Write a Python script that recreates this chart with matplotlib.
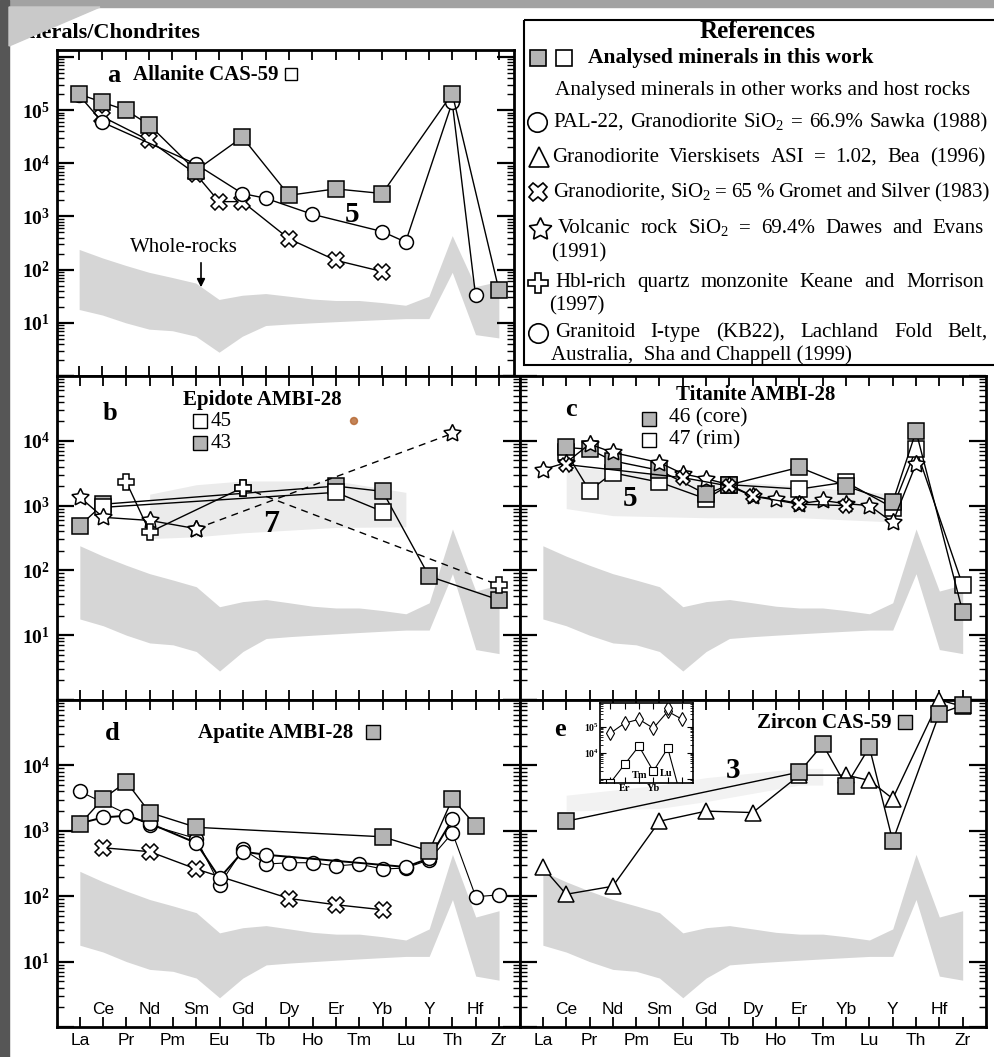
import numpy as np
import matplotlib
matplotlib.use('Agg')
import matplotlib.pyplot as plt
from matplotlib.ticker import LogLocator, NullFormatter
from matplotlib.patches import Rectangle, Polygon, Circle
from matplotlib import font_manager

plt.rcParams['font.family'] = ['Liberation Serif', 'DejaVu Serif']
plt.rcParams['mathtext.fontset'] = 'custom'
plt.rcParams['mathtext.rm'] = 'Liberation Serif'
plt.rcParams['mathtext.bf'] = 'Liberation Serif:bold'
plt.rcParams['mathtext.default'] = 'regular'

_names = {f.name for f in font_manager.fontManager.ttflist}
SANS = 'Liberation Sans Narrow' if 'Liberation Sans Narrow' in _names else 'Liberation Sans'

# ---------------------------------------------------------------- data
ELEMENTS = ['La', 'Ce', 'Pr', 'Nd', 'Pm', 'Sm', 'Eu', 'Gd', 'Tb', 'Dy',
            'Ho', 'Er', 'Tm', 'Yb', 'Lu', 'Y', 'Th', 'Hf', 'Zr']

# whole-rock field (upper / lower envelope, chondrite normalised)
wr_upper = [240, 166, 120, 89, 71, 56, 27.5, 33, 35.5, 31.6, 28, 26.3, 26.3, 24, 21.4, 31.6, 436, 48, 60]
wr_lower = [17.8, 14, 10, 7.6, 7.1, 5.6, 2.8, 5.6, 8.9, 9.5, 10, 10.5, 11, 11.5, 12, 12, 89, 6, 5.2]

# a  Allanite CAS-59
a_aln_el = ['La', 'Ce', 'Pr', 'Nd', 'Sm', 'Gd', 'Dy', 'Er', 'Yb', 'Th', 'Zr']
a_aln_val = [2.0e5, 1.4e5, 1.0e5, 5.3e4, 7.3e3, 3.1e4, 2.5e3, 3.3e3, 2.7e3, 2.05e5, 42]
a_saw_el = ['La', 'Ce', 'Sm', 'Gd', 'Tb', 'Ho', 'Yb', 'Lu', 'Th', 'Hf']
a_saw_val = [1.9e5, 5.9e4, 9.7e3, 2.7e3, 2.2e3, 1.1e3, 520, 330, 1.4e5, 33]
a_gro_el = ['Ce', 'Nd', 'Sm', 'Eu', 'Gd', 'Dy', 'Er', 'Yb']
a_gro_val = [7.5e4, 2.7e4, 6.3e3, 1.9e3, 1.9e3, 380, 150, 92]

# b  Epidote AMBI-28
b_43_el = ['La', 'Ce', 'Er', 'Yb', 'Y', 'Zr']
b_43_val = [490, 1050, 2000, 1660, 81, 35]
b_45_el = ['Ce', 'Er', 'Yb']
b_45_val = [940, 1600, 810]
b_star_el = ['La', 'Ce', 'Nd', 'Sm', 'Th']
b_star_val = [1350, 660, 590, 440, 13000]
b_hbl_el = ['Pr', 'Nd', 'Gd', 'Zr']
b_hbl_val = [2300, 390, 1900, 59]
b_field_el = ['Nd', 'Sm', 'Gd', 'Er', 'Lu']
b_field_hi = [1500, 2100, 2400, 2400, 1600]
b_field_lo = [310, 330, 380, 460, 470]

# c  Titanite AMBI-28
c_46_el = ['Ce', 'Pr', 'Nd', 'Sm', 'Gd', 'Tb', 'Er', 'Yb', 'Y', 'Th', 'Zr']
c_46_val = [7900, 7400, 4900, 3500, 1500, 2100, 3900, 2000, 1130, 14000, 23]
c_47_el = ['Ce', 'Pr', 'Nd', 'Sm', 'Gd', 'Tb', 'Er', 'Yb', 'Y', 'Th', 'Zr']
c_47_val = [6600, 1700, 3200, 2300, 1270, 2100, 1800, 2300, 930, 7400, 59]
c_star_el = ['La', 'Ce', 'Pr', 'Nd', 'Sm', 'Eu', 'Gd', 'Tb', 'Dy', 'Ho', 'Er', 'Tm', 'Yb', 'Lu', 'Y', 'Th']
c_star_val = [3600, 4600, 8900, 6600, 4600, 3100, 2600, 2100, 1400, 1260, 1070, 1200, 1070, 1000, 550, 4400]
c_gro_el = ['Ce', 'Eu', 'Tb', 'Dy', 'Er', 'Yb']
c_gro_val = [4300, 2700, 2000, 1400, 1050, 1000]
c_field_el = ['Ce', 'Nd', 'Gd', 'Er', 'Y']
c_field_hi = [4000, 3500, 2500, 2000, 1500]
c_field_lo = [900, 700, 650, 650, 560]

# d  Apatite AMBI-28
d_apt_el = ['La', 'Ce', 'Pr', 'Nd', 'Sm', 'Yb', 'Y', 'Th', 'Hf']
d_apt_val = [1260, 3100, 5600, 1900, 1130, 810, 490, 3100, 1200]
d_saw_el = ['La', 'Nd', 'Sm', 'Eu', 'Gd', 'Tb', 'Dy', 'Ho', 'Er', 'Tm', 'Yb', 'Lu', 'Y', 'Th', 'Hf', 'Zr']
d_saw_val = [4000, 1230, 760, 150, 520, 310, 325, 325, 290, 310, 260, 270, 360, 930, 98, 105]
d_sha_el = ['La', 'Ce', 'Pr', 'Nd', 'Sm', 'Eu', 'Gd', 'Tb', 'Lu', 'Y', 'Th']
d_sha_val = [1300, 1600, 1700, 1300, 650, 190, 480, 430, 280, 380, 1500]
d_gro_el = ['Ce', 'Nd', 'Sm', 'Dy', 'Er', 'Yb']
d_gro_val = [550, 480, 260, 92, 74, 62]

# e  Zircon CAS-59
e_zrn_el = ['Ce', 'Er', 'Tm', 'Yb', 'Lu', 'Y', 'Hf', 'Zr']
e_zrn_val = [1400, 7900, 21000, 4900, 19000, 700, 62000, 83000]
e_bea_el = ['La', 'Ce', 'Nd', 'Sm', 'Gd', 'Dy', 'Er', 'Yb', 'Lu', 'Y', 'Hf', 'Zr']
e_bea_val = [275, 107, 142, 1400, 2000, 1900, 7100, 7100, 5900, 3100, 1.0e5, 80000]
e_field_el = ['Ce', 'Sm', 'Gd', 'Er', 'Tm']
e_field_hi = [3500, 5000, 6500, 9000, 9000]
e_field_lo = [2000, 2200, 2800, 5000, 5000]
# inset of e
ins_sq_el = ['Ho', 'Er', 'Tm', 'Yb', 'Lu', 'Y']
ins_sq_val = [700, 3600, 18000, 2000, 15000, 140]
ins_dia_el = ['Ho', 'Er', 'Tm', 'Yb', 'Lu', 'Y']
ins_dia_val = [55000, 135000, 190000, 87000, 380000, 190000]
ins_dia2_el = ['Lu']
ins_dia2_val = [525000]

# ---------------------------------------------------------------- figure
W, H = 994, 1057
DPI = 100
fig = plt.figure(figsize=(W / DPI, H / DPI), dpi=DPI)
fig.patch.set_facecolor('white')


def box(x0, y0, x1, y1):
    return [x0 / W, 1 - y1 / H, (x1 - x0) / W, (y1 - y0) / H]


GRAY = '#b4b4b4'
BAND = '#d6d6d6'
STAR = (5, 1, 0)


def idx(els):
    return [ELEMENTS.index(e) for e in els]


def style(ax, xlim, top_exp, labeled):
    ax.set_yscale('log')
    ax.set_xlim(*xlim)
    ax.set_ylim(1, 10 ** top_exp)
    ks = list(range(0, int(np.floor(top_exp)) + 1))
    ax.set_yticks([10.0 ** k for k in ks],
                  labels=[f'10$^{{{k}}}$' if k in labeled else '' for k in ks],
                  fontsize=14, fontweight='bold')
    ax.yaxis.set_minor_locator(LogLocator(base=10, subs=np.arange(2, 10) * 1.0, numticks=100))
    ax.yaxis.set_minor_formatter(NullFormatter())
    ax.set_xticks(range(len(ELEMENTS)))
    ax.set_xticklabels([])
    ax.tick_params(axis='y', which='major', direction='in', length=12, width=1.6,
                   left=True, right=True, pad=5)
    ax.tick_params(axis='y', which='minor', direction='in', length=5, width=1.0,
                   left=True, right=True)
    ax.tick_params(axis='x', which='major', direction='in', length=7, width=1.3,
                   top=True, bottom=True)
    ax.xaxis.set_minor_locator(matplotlib.ticker.NullLocator())
    for s in ax.spines.values():
        s.set_linewidth(2.0)
    ax.fill_between(range(len(ELEMENTS)), wr_lower, wr_upper, color=BAND, lw=0, zorder=1)


def series(ax, els, vals, marker, mfc='white', ms=10, ls='-', lw=1.0, mew=1.1, z=3, clip=False):
    ax.plot(idx(els), vals, color='black', ls=ls, lw=lw, marker=marker, ms=ms,
            mfc=mfc, mec='black', mew=mew, zorder=z, clip_on=clip)


ax_a = fig.add_axes(box(57, 50, 514, 376))
ax_b = fig.add_axes(box(57, 376, 520, 700))
ax_c = fig.add_axes(box(520, 376, 986, 700))
ax_d = fig.add_axes(box(57, 700, 520, 1027))
ax_e = fig.add_axes(box(520, 700, 986, 1027))

style(ax_a, (-0.95, 18.65), 6.13, [1, 2, 3, 4, 5])
style(ax_b, (-0.98, 18.9), 5, [1, 2, 3, 4])
style(ax_c, (-0.98, 19.0), 5, [])
style(ax_d, (-0.98, 18.9), 5, [1, 2, 3, 4])
style(ax_e, (-0.98, 19.0), 5, [])

# light fields
ax_b.fill_between(idx(b_field_el), b_field_lo, b_field_hi, color='#ebebeb', lw=0, zorder=0.9)
ax_c.fill_between(idx(c_field_el), c_field_lo, c_field_hi, color='#ededed', lw=0, zorder=0.9)
ax_e.fill_between(idx(e_field_el), e_field_lo, e_field_hi, color='#f2f2f2', lw=0, zorder=0.9)

# panel a
series(ax_a, a_gro_el, a_gro_val, 'X', ms=11)
series(ax_a, a_saw_el, a_saw_val, 'o', ms=10)
series(ax_a, a_aln_el, a_aln_val, 's', mfc=GRAY, ms=11)

# panel b
series(ax_b, b_43_el, b_43_val, 's', mfc=GRAY, ms=11)
series(ax_b, b_45_el, b_45_val, 's', ms=11)
series(ax_b, b_star_el[:4], b_star_val[:4], STAR, ms=13)
series(ax_b, b_star_el[3:], b_star_val[3:], STAR, ms=13, ls=(0, (5, 4)))
series(ax_b, b_hbl_el[:3], b_hbl_val[:3], 'P', ms=11)
series(ax_b, b_hbl_el[2:], b_hbl_val[2:], 'P', ms=11, ls=(0, (5, 4)))

# panel c
series(ax_c, c_47_el, c_47_val, 's', ms=11)
series(ax_c, c_46_el, c_46_val, 's', mfc=GRAY, ms=11)
series(ax_c, c_star_el, c_star_val, STAR, ms=13)
series(ax_c, c_gro_el, c_gro_val, 'X', ms=10)

# panel d
series(ax_d, d_gro_el, d_gro_val, 'X', ms=11)
series(ax_d, d_saw_el, d_saw_val, 'o', ms=10, lw=0.8)
series(ax_d, d_sha_el, d_sha_val, 'o', ms=10, lw=1.4)
series(ax_d, d_apt_el, d_apt_val, 's', mfc=GRAY, ms=11)

# panel e
series(ax_e, e_bea_el, e_bea_val, '^', ms=12)
series(ax_e, e_zrn_el, e_zrn_val, 's', mfc=GRAY, ms=12)

# element labels of d and e
for ax in (ax_d, ax_e):
    tr = ax.get_xaxis_transform()
    for i, el in enumerate(ELEMENTS):
        if i % 2 == 0:
            ax.text(i, -0.040, el, transform=tr, ha='center', va='center',
                    fontsize=12.5, family=SANS)
        else:
            ax.text(i, 0.055, el, transform=tr, ha='center', va='center',
                    fontsize=12.5, family=SANS)

# inset in e
ins = fig.add_axes(box(600, 703, 693, 783))
ins.set_yscale('log')
ins.set_xlim(9.3, 15.75)
ins.set_ylim(10 ** 2.85, 10 ** 5.9)
ins.plot(idx(ins_sq_el), ins_sq_val, color='black', lw=0.8, marker='s', ms=5.5,
         mfc='white', mec='black', mew=0.8)
ins.plot(idx(ins_dia_el), ins_dia_val, color='black', lw=0.8, marker='d', ms=7,
         mfc='white', mec='black', mew=0.8)
ins.plot(idx(ins_dia2_el), ins_dia2_val, ls='none', marker='d', ms=7,
         mfc='white', mec='black', mew=0.8)
ins.set_yticks([1e3, 1e4, 1e5], labels=['', '10$^{4}$', '10$^{5}$'], fontsize=7, fontweight='bold')
ins.yaxis.set_minor_locator(LogLocator(base=10, subs=np.arange(2, 10) * 1.0, numticks=100))
ins.yaxis.set_minor_formatter(NullFormatter())
ins.set_xticks(range(10, 16), labels=['', 'Er', '', 'Yb', '', ''], fontsize=7.5, fontweight='bold')
ins.tick_params(axis='both', which='major', direction='in', length=4, width=0.8,
                top=True, right=True, pad=1)
ins.tick_params(axis='y', which='minor', direction='in', length=2, width=0.6, right=True)
for s in ins.spines.values():
    s.set_linewidth(1.2)

# ---------------------------------------------------------------- overlay (pixel coordinates)
ov = fig.add_axes([0, 0, 1, 1], zorder=10)
ov.set_xlim(0, W)
ov.set_ylim(H, 0)
ov.axis('off')
renderer = fig.canvas.get_renderer()


def T(x, y, s, size=13, weight='normal', ha='left', va='center', **kw):
    return ov.text(x, y, s, fontsize=size, fontweight=weight, ha=ha, va=va, **kw)


def J(x0, x1, y, line, size=15):
    """Justified line of words between x0 and x1 (pixel units), common baseline."""
    words = line.split()
    texts = [T(x0, y + 5, w, size=size, va='baseline') for w in words]
    widths = [t.get_window_extent(renderer).width for t in texts]
    gap = (x1 - x0 - sum(widths)) / max(len(words) - 1, 1)
    x = x0
    for t, wd in zip(texts, widths):
        t.set_x(x)
        x += wd + gap


def M(x, y, marker, ms, mfc='white', mew=1.2):
    ov.plot([x], [y], marker=marker, ms=ms, mfc=mfc, mec='black', mew=mew,
            ls='none', clip_on=False)


# frame decorations of the scan
ov.add_patch(Rectangle((0, 0), W, 7, color='#a2a2a2', zorder=5))
ov.add_patch(Rectangle((0, 0), 9, H, color='#565656', zorder=6))
T(200, 33, 'Minerals/Chondrites', size=16, weight='bold', ha='right')
ov.add_patch(Polygon([(9, 7), (100, 7), (9, 46)], closed=True, color='#c9c9c9', zorder=7))

# panel a annotations
T(107, 76, 'a', size=19, weight='bold')
T(133, 75, 'Allanite CAS-59', size=15, weight='bold')
M(291, 74, 's', 9, mew=1.0)
T(184, 247, 'Whole-rocks', size=15, ha='center')
ov.annotate('', xy=(201, 290), xytext=(201, 260),
            arrowprops=dict(arrowstyle='-|>', color='black', lw=1.2, mutation_scale=12))
T(352, 215, '5', size=21, weight='bold', ha='center')

# panel b annotations
T(110, 413, 'b', size=19, weight='bold', ha='center')
T(262, 400, 'Epidote AMBI-28', size=15, weight='bold', ha='center')
M(200, 421, 's', 9.5, mew=1.0)
T(211, 421, '45', size=15)
M(200, 443, 's', 9.5, mfc=GRAY, mew=1.0)
T(211, 443, '43', size=15)
T(271, 524, '7', size=23, weight='bold', ha='center')
ov.add_patch(Circle((354, 421), 3.5, color='#b5652e', alpha=0.8, zorder=4))

# panel c annotations
T(571, 409, 'c', size=19, weight='bold', ha='center')
T(756, 395, 'Titanite AMBI-28', size=15, weight='bold', ha='center')
M(649, 419, 's', 9.5, mfc=GRAY, mew=1.0)
T(669, 418, '46 (core)', size=15.5)
M(649, 440, 's', 9.5, mew=1.0)
T(669, 440, '47 (rim)', size=15.5)
T(630, 498, '5', size=21, weight='bold', ha='center')

# panel d annotations
T(112, 734, 'd', size=19, weight='bold', ha='center')
T(276, 733, 'Apatite AMBI-28', size=15, weight='bold', ha='center')
M(373, 732, 's', 9.5, mfc=GRAY, mew=1.0)

# panel e annotations
T(560, 730, 'e', size=19, weight='bold', ha='center')
T(824, 723, 'Zircon CAS-59', size=15, weight='bold', ha='center')
M(905, 722, 's', 9.5, mfc=GRAY, mew=1.0)
T(733, 771, '3', size=21, weight='bold', ha='center')
T(640, 776, 'Tm', size=7.5, weight='bold', ha='center')
T(666, 773, 'Lu', size=7.5, weight='bold', ha='center')

# references box
ov.add_patch(Rectangle((524, 20), 480, 345, fill=False, ec='black', lw=1.5, zorder=4))
T(758, 32, 'References', size=18, weight='bold', ha='center')
M(538, 58, 's', 12, mfc=GRAY)
M(564, 58, 's', 12)
T(588, 58, 'Analysed minerals in this work', size=15.5, weight='bold')
T(555, 91, 'Analysed minerals in other works and host rocks', size=15.3)
M(537, 122, 'o', 14)
J(553, 987, 122, 'PAL-22, Granodiorite SiO$_2$ = 66.9% Sawka (1988)')
M(539, 157, '^', 14)
J(552, 985, 157, 'Granodiorite Vierskisets ASI = 1.02, Bea (1996)')
M(538, 192, 'X', 13)
J(553, 990, 192, 'Granodiorite, SiO$_2$ = 65 % Gromet and Silver (1983)')
M(540, 229, STAR, 17)
J(558, 984, 228, 'Volcanic rock SiO$_2$ = 69.4% Dawes and Evans')
T(551, 253, '(1991)', size=15)
M(538, 283, 'P', 14)
J(555, 984, 282, 'Hbl-rich quartz monzonite Keane and Morrison')
T(549, 306, '(1997)', size=15)
M(538, 333, 'o', 14)
J(555, 988, 332, 'Granitoid I-type (KB22), Lachland Fold Belt,')
T(551, 355, 'Australia,  Sha and Chappell (1999)', size=15)

fig.savefig('out.png', dpi=DPI, facecolor=fig.get_facecolor())
